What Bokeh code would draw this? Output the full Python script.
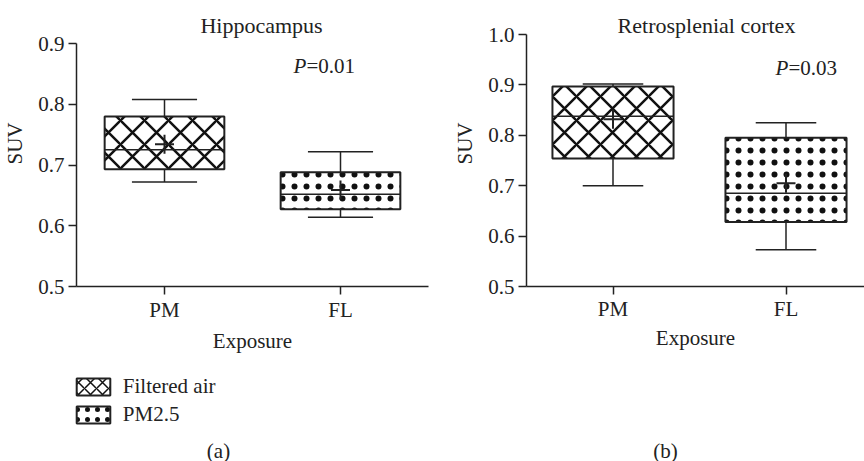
import numpy as np
from bokeh.plotting import figure
from bokeh.layouts import row, column
from bokeh.models import (ColumnDataSource, Range1d, FixedTicker, PrintfTickFormatter,
                          Label, Legend, LegendItem)
from bokeh.embed import file_html
from bokeh.resources import INLINE

# ---------------- data ----------------
categories = ["PM", "FL"]
groups = ["Filtered air", "PM2.5"]
patterns = ["x", "."]

hip_q1 = [0.693, 0.627]
hip_median = [0.725, 0.652]
hip_q3 = [0.780, 0.688]
hip_min = [0.672, 0.614]
hip_max = [0.808, 0.722]
hip_mean = [0.734, 0.659]
hip_ticks = [0.5, 0.6, 0.7, 0.8, 0.9]
hip_p = "0.01"

rsc_q1 = [0.754, 0.628]
rsc_median = [0.838, 0.685]
rsc_q3 = [0.897, 0.795]
rsc_min = [0.700, 0.573]
rsc_max = [0.902, 0.825]
rsc_mean = [0.832, 0.705]
rsc_ticks = [0.5, 0.6, 0.7, 0.8, 0.9, 1.0]
rsc_p = "0.03"

FONT = "Liberation Serif"
INK = "#222222"
FS = "21px"
H1 = 358          # height of the plot row
W = 432
H_TOTAL = 461
FRAME_BOTTOM = 286  # pixel row of the x axis


def panel(title, q1, med, q3, lo, hi, mean, ticks, pval,
          border_left, border_right, frame_right_px, top_tick_px, unit_px, box_w, cap_w,
          title_px, p_px, ylab_standoff, xlab_standoff, label_standoff):
    xs = list(range(len(categories)))
    frame_w = W - border_left - border_right
    x_end = -0.5 + frame_w / unit_px
    per_px = (ticks[-1] - ticks[0]) / (FRAME_BOTTOM - top_tick_px)
    y_end = ticks[0] + FRAME_BOTTOM * per_px

    def xd(px):  # page x -> data x
        return (px - border_left - frame_right_px) / unit_px - 0.5

    def yd(py):  # page y -> data y
        return ticks[0] + (FRAME_BOTTOM - py) * per_px

    p = figure(width=W, height=H1, output_backend="svg", toolbar_location=None,
               x_range=Range1d(-0.5, x_end), y_range=Range1d(ticks[0], y_end),
               min_border_left=border_left, min_border_right=border_right,
               min_border_top=0, min_border_bottom=H1 - FRAME_BOTTOM)
    p.outline_line_color = None
    p.xgrid.grid_line_color = None
    p.ygrid.grid_line_color = None
    p.background_fill_color = "white"
    p.border_fill_color = "white"

    src = ColumnDataSource(dict(x=xs, q1=q1, med=med, q3=q3, lo=lo, hi=hi, mean=mean,
                                pat=patterns, hscale=[24, 12], hweight=[2.5, 0.8],
                                cl=[x - cap_w / 2 for x in xs],
                                cr=[x + cap_w / 2 for x in xs],
                                bl=[x - box_w / 2 for x in xs],
                                br=[x + box_w / 2 for x in xs]))
    # whiskers
    p.segment(x0="x", y0="q3", x1="x", y1="hi", source=src, line_color=INK, line_width=1.5)
    p.segment(x0="x", y0="q1", x1="x", y1="lo", source=src, line_color=INK, line_width=1.5)
    p.segment(x0="cl", y0="hi", x1="cr", y1="hi", source=src, line_color=INK, line_width=1.5)
    p.segment(x0="cl", y0="lo", x1="cr", y1="lo", source=src, line_color=INK, line_width=1.5)
    # boxes
    p.vbar(x="x", width=box_w, bottom="q1", top="q3", source=src,
           fill_color="white", line_color=INK, line_width=2,
           hatch_pattern="pat", hatch_color="#111111", hatch_weight="hweight",
           hatch_scale="hscale")
    # median
    p.segment(x0="bl", y0="med", x1="br", y1="med", source=src, line_color=INK, line_width=1.5)
    # mean
    p.scatter(x="x", y="mean", source=src, marker="cross", size=19,
              line_color=INK, line_width=2)

    # axes
    for ax in (p.xaxis[0], p.yaxis[0]):
        ax.axis_line_color = INK
        ax.axis_line_width = 1.5
        ax.major_tick_line_color = INK
        ax.major_tick_line_width = 1.5
        ax.major_tick_out = 8
        ax.major_tick_in = 0
        ax.minor_tick_line_color = None
        ax.major_label_text_font = FONT
        ax.major_label_text_font_size = FS
        ax.major_label_text_color = INK
        ax.axis_label_text_font = FONT
        ax.axis_label_text_font_size = FS
        ax.axis_label_text_font_style = "normal"
        ax.axis_label_text_color = INK
    p.xaxis.ticker = FixedTicker(ticks=xs)
    p.xaxis.major_label_overrides = {i: c for i, c in enumerate(categories)}
    p.xaxis.axis_label = "Exposure"
    p.xaxis.major_label_standoff = label_standoff
    p.xaxis.axis_label_standoff = xlab_standoff
    p.yaxis.ticker = FixedTicker(ticks=ticks)
    p.yaxis.bounds = (ticks[0], ticks[-1])
    p.yaxis.formatter = PrintfTickFormatter(format="%.1f")
    p.yaxis.axis_label = "SUV"
    p.yaxis.major_label_standoff = 4
    p.yaxis.axis_label_standoff = ylab_standoff

    # title
    p.add_layout(Label(x=xd(title_px[0]), y=yd(title_px[1]), text=title, text_font=FONT,
                       text_font_size="22px", text_color=INK, text_align="center",
                       text_baseline="middle"))
    # P value
    p.add_layout(Label(x=xd(p_px[0]), y=yd(p_px[1]), text="P", text_font=FONT,
                       text_font_size=FS, text_font_style="italic", text_color=INK,
                       text_align="left", text_baseline="middle"))
    p.add_layout(Label(x=xd(p_px[0]), y=yd(p_px[1]), x_offset=13, text="=" + pval,
                       text_font=FONT, text_font_size=FS, text_color=INK,
                       text_align="left", text_baseline="middle"))
    return p


def footer(caption, cap_x, with_legend):
    h = H_TOTAL - H1
    g = figure(width=W, height=h, output_backend="svg", toolbar_location=None,
               x_axis_type=None, y_axis_type=None,
               x_range=Range1d(0, 1), y_range=Range1d(0, 1),
               min_border=0, min_border_left=0, min_border_right=0,
               min_border_top=0, min_border_bottom=0)
    g.outline_line_color = None
    g.xgrid.grid_line_color = None
    g.ygrid.grid_line_color = None
    g.add_layout(Label(x=cap_x, y=11, x_units="screen", y_units="screen", text=caption,
                       text_font=FONT, text_font_size=FS, text_color=INK,
                       text_align="center", text_baseline="middle"))
    if with_legend:
        # legend proxies (no visible data, only provide the swatch style)
        nan = np.array([np.nan])
        r1 = g.vbar(x=nan, width=0.5, bottom=nan, top=nan, fill_color="white",
                    line_color=INK, line_width=2, hatch_pattern=patterns[0],
                    hatch_color="#111111", hatch_weight=1.5, hatch_scale=12)
        r2 = g.vbar(x=nan, width=0.5, bottom=nan, top=nan, fill_color="white",
                    line_color=INK, line_width=2, hatch_pattern=patterns[1],
                    hatch_color="#111111", hatch_weight=0.8, hatch_scale=10)
        leg = Legend(items=[LegendItem(label=groups[0], renderers=[r1]),
                            LegendItem(label=groups[1], renderers=[r2])],
                     location=(71.8, 34), orientation="vertical",
                     glyph_width=42, glyph_height=21, label_height=21, spacing=3,
                     label_standoff=9, padding=0, margin=0,
                     border_line_color=None, background_fill_alpha=0,
                     label_text_font=FONT, label_text_font_size=FS,
                     label_text_color=INK)
        g.add_layout(leg, "center")
    return g


pa = panel("Hippocampus", hip_q1, hip_median, hip_q3, hip_min, hip_max, hip_mean,
           hip_ticks, hip_p, 76, 4, 0, 43, 176, 0.68, 0.37,
           (261, 25), (293, 65), 8, 4, 3)
pb = panel("Retrosplenial cortex", rsc_q1, rsc_median, rsc_q3, rsc_min, rsc_max, rsc_mean,
           rsc_ticks, rsc_p, 94, 0, W, 34, 173, 0.70, 0.35,
           (706, 25), (775, 67), 8, 2, 2)

ga = footer("(a)", 218, True)
gb = footer("(b)", 233, False)

layout = column(row(pa, pb), row(ga, gb))
open("out.html", "w").write(file_html(layout, INLINE))
